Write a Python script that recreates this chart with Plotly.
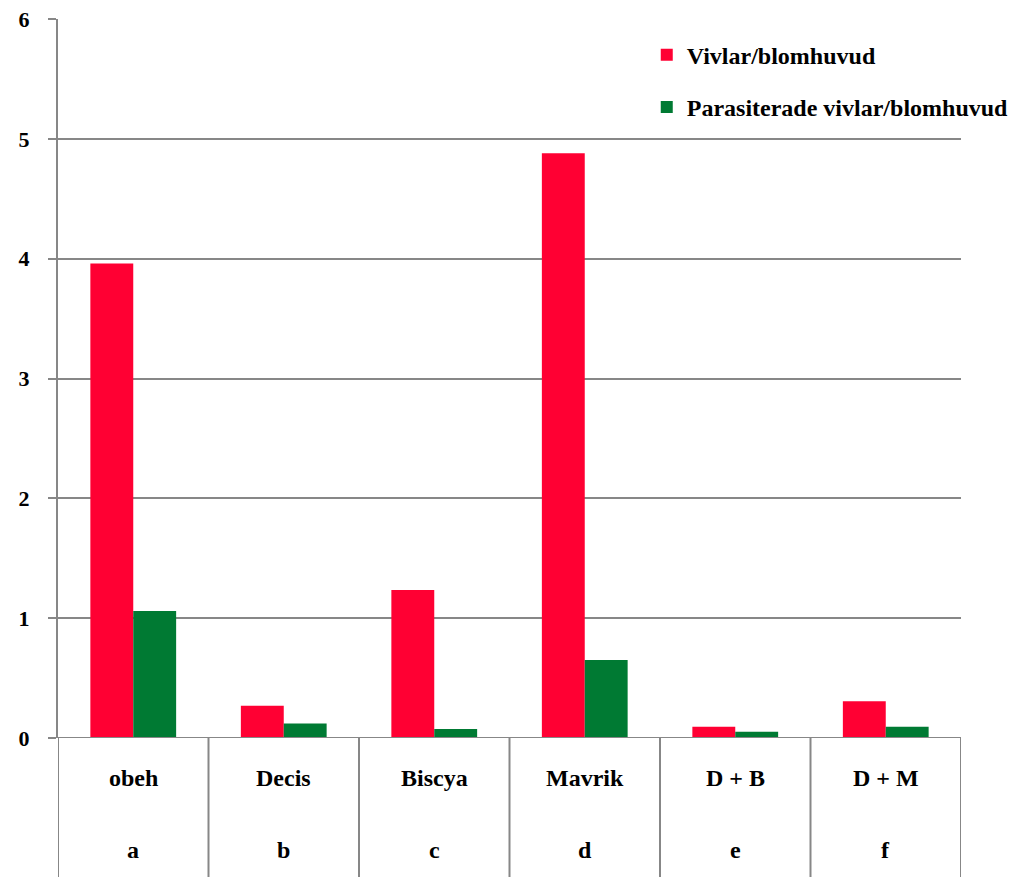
import plotly.graph_objects as go

categories = ["obeh", "Decis", "Biscya", "Mavrik", "D + B", "D + M"]
letters = ["a", "b", "c", "d", "e", "f"]
vivlar = [3.96, 0.27, 1.235, 4.88, 0.094, 0.306]
parasiterade = [1.06, 0.12, 0.075, 0.65, 0.053, 0.094]
ytick_vals = [0, 1, 2, 3, 4, 5, 6]

xpos = list(range(len(categories)))
FONT = "Liberation Serif"
GRAY = "#878787"

fig = go.Figure()
fig.add_trace(go.Bar(x=xpos, y=vivlar, name="Vivlar/blomhuvud",
                     marker=dict(color="#FF0033", line=dict(width=0)),
                     legendgroup="a"))
fig.add_trace(go.Bar(x=xpos, y=parasiterade, name="Parasiterade vivlar/blomhuvud",
                     marker=dict(color="#007A33", line=dict(width=0)),
                     legendgroup="b"))

shapes = []
for i in range(len(categories) + 1):
    shapes.append(dict(type="line", xref="x", yref="paper",
                       x0=i - 0.5, x1=i - 0.5, y0=0, y1=-0.2,
                       line=dict(color=GRAY, width=2)))

annotations = []
for i, (c, l) in enumerate(zip(categories, letters)):
    annotations.append(dict(x=i, y=-0.076, xref="x", yref="paper", text=c,
                            showarrow=False, font=dict(family=FONT, size=24, color="black", weight="bold")))
    annotations.append(dict(x=i, y=-0.177, xref="x", yref="paper", text=l,
                            showarrow=False, font=dict(family=FONT, size=24, color="black", weight="bold")))

fig.update_layout(
    width=1023, height=877,
    margin=dict(l=58, r=62, t=19, b=139, autoexpand=False),
    plot_bgcolor="white", paper_bgcolor="white",
    barmode="group", bargap=0.43, bargroupgap=0,
    showlegend=True,
    legend=dict(x=0.652, y=0.981, xanchor="left", yanchor="top",
                font=dict(family=FONT, size=24, color="black", weight="bold"),
                tracegroupgap=18, itemwidth=30, bgcolor="rgba(0,0,0,0)"),
    xaxis=dict(range=[-0.5, len(categories) - 0.5], showticklabels=False,
               showgrid=False, zeroline=False, showline=False, ticks=""),
    yaxis=dict(range=[0, 6], tickvals=ytick_vals, showgrid=True, gridcolor=GRAY, gridwidth=2,
               zeroline=False, showline=True, linecolor=GRAY, linewidth=2,
               ticks="outside", ticklen=8, tickcolor=GRAY, tickwidth=2,
               tickfont=dict(family=FONT, size=22, color="black", weight="bold"),
               ticklabelstandoff=14),
    shapes=shapes,
    annotations=annotations,
)
fig.add_hline(y=0, line=dict(color=GRAY, width=2))

fig.write_html("out.html")
